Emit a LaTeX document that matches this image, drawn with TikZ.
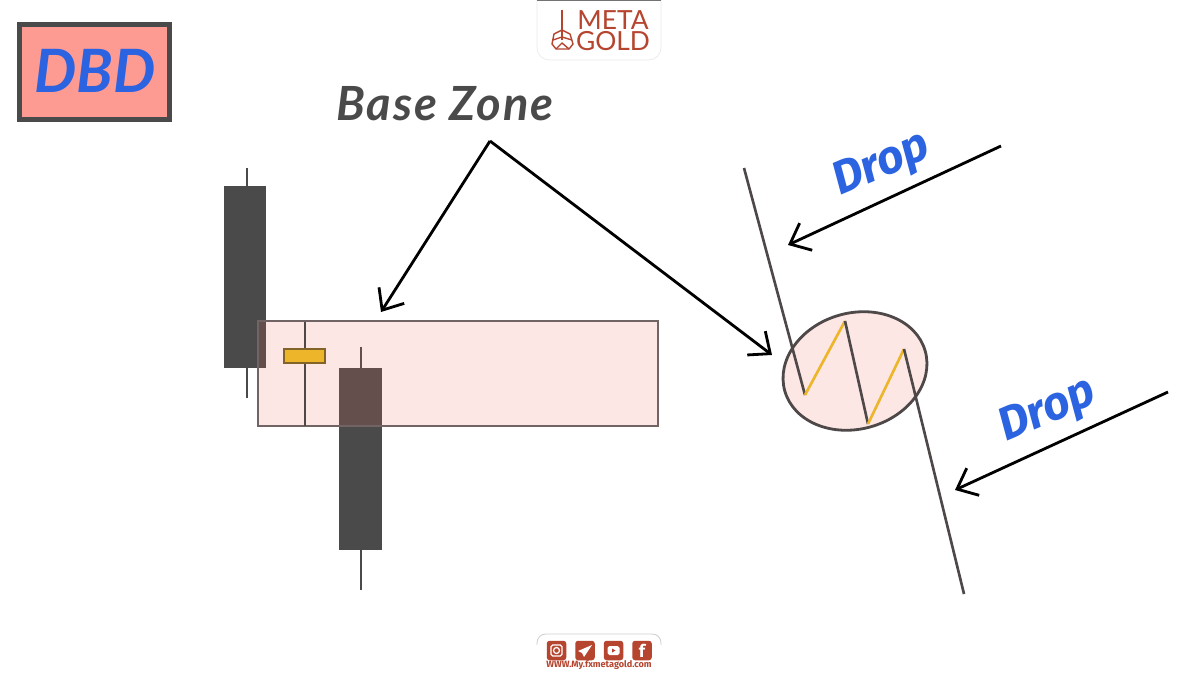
\documentclass[tikz,border=0pt]{standalone}
\usepackage{fontspec}
\setmainfont{Open Sans}
\newfontfamily\fira{Fira Sans}
\newfontfamily\lato{Lato}
\newfontfamily\latosp[LetterSpace=4]{Lato}
\usetikzlibrary{arrows.meta,shapes.geometric}
\definecolor{dk}{HTML}{4A4A4A}
\definecolor{dkline}{HTML}{4E4848}
\definecolor{blu}{HTML}{2B63E0}
\definecolor{yel}{HTML}{EDB52A}
\definecolor{logored}{HTML}{B5452F}
\definecolor{pinkov}{HTML}{F06E5E}
\definecolor{zoneedge}{HTML}{706464}
\definecolor{dojiedge}{HTML}{826428}
\definecolor{badgefill}{HTML}{FD9A92}
\tikzset{
  candle/.style={fill=dk,draw=none},
  wick/.style={draw=dk,line width=1.6pt},
  pinkzone/.style={fill=pinkov,fill opacity=.16,draw=#1,line width=1.6pt},
  zig/.style={draw=dkline,line width=1.5pt},
  zag/.style={draw=yel,line width=1.5pt},
  pointer/.style={draw=black,line width=1.6pt,-{Straight Barb[length=10pt,width=17pt,line width=1.6pt]}},
  droptext/.style={text=blu,font=\fira\bfseries\itshape\fontsize{26.5}{26.5}\selectfont,inner sep=0pt},
  iconbox/.style={fill=logored,rounded corners=1.6pt,draw=none},
}
\begin{document}
\begin{tikzpicture}[x=0.02cm,y=-0.02cm]
\useasboundingbox (0,0) rectangle (1200,675);
\fill[white] (0,0) rectangle (1200,675);
% candles
\draw[wick] (247,168) -- (247,398);
\fill[candle] (224,186) rectangle (266,368);
\draw[wick] (361,347) -- (361,590);
\fill[candle] (339,368) rectangle (382,550);
% zone
\node[rectangle,minimum width=8cm,minimum height=2.1cm,inner sep=0pt,pinkzone=zoneedge] (zone) at (458,373.5) {};
% doji
\draw[draw=dkline,line width=1.5pt] (305,322) -- (305,426);
\node[rectangle,minimum width=0.82cm,minimum height=0.28cm,inner sep=0pt,fill=yel,draw=dojiedge,line width=1.2pt] (doji) at (304.5,356) {};
% DBD
\node[rectangle,minimum width=3cm,minimum height=1.9cm,inner sep=0pt,fill=badgefill,draw=dk,line width=2.3pt] (badge) at (94.5,72) {};
\node[text=blu,font=\lato\bfseries\itshape\fontsize{34}{34}\selectfont,inner sep=0pt] (dbd) at (95,71) {DBD};
% Base zone
\node[text=dk,font=\latosp\bfseries\itshape\fontsize{26.8}{26.8}\selectfont,inner sep=0pt] (base) at (445,104) {Base Zone};
\coordinate (apex) at (490,141);
\coordinate (zonetop) at (381,312);
\coordinate (circleleft) at (772,355);
\draw[pointer] (apex) -- (zonetop);
\draw[pointer] (apex) -- (circleleft);
% ellipse and zigzag
\node[ellipse,minimum width=2.92cm,minimum height=2.32cm,inner sep=0pt,rotate=16,pinkzone=dkline] (range) at (855,371) {};
\coordinate (z0) at (744,168);
\coordinate (z1) at (805,395);
\coordinate (z2) at (845,321);
\coordinate (z3) at (868,424);
\coordinate (z4) at (904,349);
\coordinate (z5) at (964,594);
\draw[zig] (z0) -- (z1);
\draw[zag] (z1) -- (z2);
\draw[zig] (z2) -- (z3);
\draw[zag] (z3) -- (z4);
\draw[zig] (z4) -- (z5);
% drop labels and arrows
\node[droptext,rotate=23] (drop1) at (882,166) {Drop};
\node[droptext,rotate=23] (drop2) at (1048,412) {Drop};
\coordinate (a1s) at (1001,146);
\coordinate (a1e) at (788,245);
\coordinate (a2s) at (1168,392);
\coordinate (a2e) at (955,490);
\draw[pointer] (a1s) -- (a1e);
\draw[pointer] (a2s) -- (a2e);
% top logo
\draw[draw=black!8,fill=white,line width=.4pt,rounded corners=7pt] (537,-20) -- (537,60) -- (661,60) -- (661,-20);
\fill[black!55] (537,0) rectangle (661,1.5);
\node[text=logored,font=\lato\fontsize{15}{15}\selectfont,inner sep=0pt] (meta) at (613,20) {META};
\node[text=logored,font=\lato\fontsize{15}{15}\selectfont,inner sep=0pt] (gold) at (613,41) {GOLD};
\draw[draw=logored,line width=.8pt] (562,10) -- (562,40);
\draw[draw=logored,line width=.8pt,line join=round] (562,30) -- (554,34) -- (552,44) -- (556,49) -- (569,49) -- (573,44) -- (570,34) -- cycle;
\draw[draw=logored,line width=.8pt,line join=round] (553,40) -- (562,37) -- (572,40) (556,49) -- (562,43) -- (569,49);
% bottom logo
\draw[draw=black!18,line width=.5pt,rounded corners=5pt] (537,645) -- (537,634) -- (661,634) -- (661,645);
\foreach \nm/\cx in {insta/556.5,tele/585,yt/613.5,fb/642}{
  \node[rectangle,minimum width=.39cm,minimum height=.39cm,inner sep=0pt,iconbox] (\nm) at (\cx,650.5) {};
}
\draw[white,line width=.7pt,rounded corners=1pt] (551,645) rectangle (562,656);
\draw[white,line width=.7pt] (insta) circle[radius=3];
\fill[white] (592,645) -- (578,651) -- (582,653) -- (584,657) -- cycle;
\fill[white,rounded corners=1pt] (607.5,646) rectangle (619.5,655);
\fill[logored] (612,648.5) -- (615.5,650.5) -- (612,652.5) -- cycle;
\node[text=white,font=\fira\bfseries\fontsize{10}{10}\selectfont,inner sep=0pt] (fbf) at (642,650.5) {f};
\node[text=logored,font=\fira\bfseries\fontsize{5.2}{5.2}\selectfont,inner sep=0pt] (web) at (599,665.5) {WWW.My.fxmetagold.com};
\end{tikzpicture}
\end{document}
